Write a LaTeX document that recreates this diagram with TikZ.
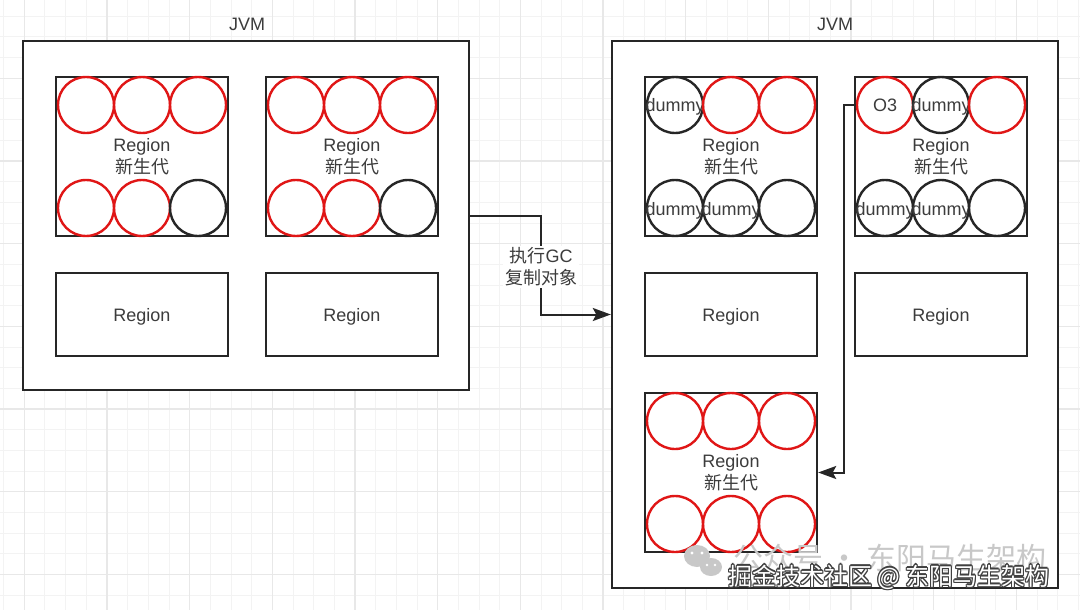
\documentclass[tikz,border=0pt]{standalone}
\usepackage{fontspec}
\setmainfont{Liberation Sans}
\newfontfamily\cjk{Noto Sans CJK SC}
\usetikzlibrary{arrows.meta}
\definecolor{lineblack}{RGB}{38,38,38}
\definecolor{objred}{RGB}{224,22,22}
\definecolor{txt}{RGB}{60,60,60}
\definecolor{gridminor}{RGB}{243,243,243}
\definecolor{gridmajor}{RGB}{232,232,232}
\definecolor{wmgray}{RGB}{200,200,200}
\newcommand{\dm}{\makebox[0pt]{\smash{\raisebox{-7pt}{dummy}}}}
\begin{document}
\begin{tikzpicture}[x=1pt,y=-1pt,
  jvmbox/.style={draw=lineblack, line width=2.4pt, fill=white, inner sep=0pt, minimum width=446pt},
  regionbox/.style={draw=lineblack, line width=2.4pt, fill=white, inner sep=0pt,
     minimum width=172pt, align=center, text=txt, font=\fontsize{18}{22}\selectfont},
  fullreg/.style={regionbox, minimum height=159pt},
  smallreg/.style={regionbox, minimum height=83pt, text depth=0pt},
  obj/.style={circle, draw=objred, line width=2.4pt, minimum size=56pt, inner sep=0pt,
     text=txt, font=\fontsize{18}{22}\selectfont},
  objk/.style={obj, draw=lineblack},
  lbl/.style={text=txt, font=\fontsize{18}{22}\selectfont},
  conn/.style={draw=lineblack, line width=2pt, -{Stealth[length=18pt,width=13pt,inset=3.5pt]}}
]
\useasboundingbox (0,0) rectangle (1080,610);
\fill[white] (0,0) rectangle (1080,610);
% grid
\foreach \i in {0,...,52} \draw[gridminor, line width=1pt] ({3.65+20.67*\i},0) -- ++(0,610);
\foreach \j in {0,...,29} \draw[gridminor, line width=1pt] (0,{16.3+20.67*\j}) -- ++(1080,0);
\foreach \i in {0,...,12} \draw[gridmajor, line width=1.3pt] ({24.3+82.68*\i},0) -- ++(0,610);
\foreach \j in {0,...,6} \draw[gridmajor, line width=1.3pt] (0,{78.3+82.68*\j}) -- ++(1080,0);

% JVM boxes
\node[jvmbox, minimum height=349pt] (jvmL) at (246,215.5) {};
\node[jvmbox, minimum height=547pt] (jvmR) at (835,314.5) {};
\node[lbl] (jvmLt) at (247,24) {JVM};
\node[lbl] (jvmRt) at (835,24) {JVM};

% regions left
\node[fullreg] (rL1) at (142,156.5) {Region\\{\cjk 新生代}};
\node[fullreg] (rL2) at (352,156.5) {Region\\{\cjk 新生代}};
\node[smallreg] (rL3) at (142,314.5) {Region};
\node[smallreg] (rL4) at (352,314.5) {Region};
% regions right
\node[fullreg] (rR1) at (731,156.5) {Region\\{\cjk 新生代}};
\node[fullreg] (rR2) at (941,156.5) {Region\\{\cjk 新生代}};
\node[smallreg] (rR3) at (731,314.5) {Region};
\node[smallreg] (rR4) at (941,314.5) {Region};
\node[fullreg] (rR5) at (731,472.5) {Region\\{\cjk 新生代}};

% objects left region 1
\node[obj] (a1) at (86,105) {};
\node[obj] (a2) at (142,105) {};
\node[obj] (a3) at (198,105) {};
\node[obj] (a4) at (86,208) {};
\node[obj] (a5) at (142,208) {};
\node[objk] (a6) at (198,208) {};
% left region 2
\node[obj] (b1) at (296,105) {};
\node[obj] (b2) at (352,105) {};
\node[obj] (b3) at (408,105) {};
\node[obj] (b4) at (296,208) {};
\node[obj] (b5) at (352,208) {};
\node[objk] (b6) at (408,208) {};
% right region 1
\node[objk] (c1) at (675,105) {\dm};
\node[obj] (c2) at (731,105) {};
\node[obj] (c3) at (787,105) {};
\node[objk] (c4) at (675,208) {\dm};
\node[objk] (c5) at (731,208) {\dm};
\node[objk] (c6) at (787,208) {};
% right region 2
\node[obj] (o3) at (885,105) {\makebox[0pt]{\smash{\raisebox{-6.7pt}{O3}}}};
\node[objk] (d2) at (941,105) {\dm};
\node[obj] (d3) at (997,105) {};
\node[objk] (d4) at (885,208) {\dm};
\node[objk] (d5) at (941,208) {\dm};
\node[objk] (d6) at (997,208) {};
% right region 5
\node[obj] (e1) at (675,421) {};
\node[obj] (e2) at (731,421) {};
\node[obj] (e3) at (787,421) {};
\node[obj] (e4) at (675,524) {};
\node[obj] (e5) at (731,524) {};
\node[obj] (e6) at (787,524) {};

% connectors
\draw[conn] (jvmL.east) -- ++(71,0) |- (jvmR.west);
\node[lbl, fill=white, align=center, inner sep=2pt] (gcLbl) at (541,267) {{\cjk 执行}GC\\{\cjk 复制对象}};
\draw[conn] (o3.west) -- ++(-12,0) |- (rR5.east);

% watermark
\fill[wmgray] (697,556) ellipse (13 and 11);
\fill[wmgray] (711,567) ellipse (11 and 9);
\fill[white] (692,553) circle (1.6) (702,553) circle (1.6) (707,565) circle (1.3) (715,565) circle (1.3);
\node[anchor=west, text=wmgray, font=\cjk\fontsize{30}{32}\selectfont, inner sep=0pt] (wm1) at (733,558) {公众号 · 东阳马生架构};
\foreach \dx/\dy in {-1.2/0,1.2/0,0/-1.2,0/1.2,-1/-1,1/1,-1/1,1/-1}
  \node[anchor=west, text=black!75, font=\cjk\fontsize{24}{26}\selectfont, inner sep=0pt] at (728+\dx,577+\dy) {掘金技术社区 @ 东阳马生架构};
\node[anchor=west, text=white, font=\cjk\fontsize{24}{26}\selectfont, inner sep=0pt] (wm2) at (728,577) {掘金技术社区 @ 东阳马生架构};
\end{tikzpicture}
\end{document}
